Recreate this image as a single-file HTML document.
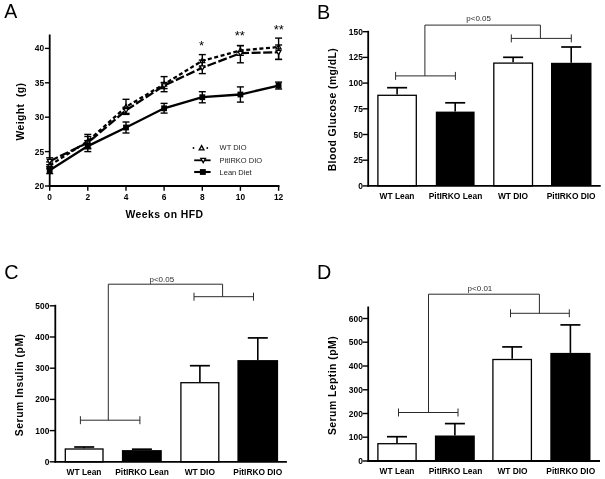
<!DOCTYPE html>
<html><head><meta charset="utf-8"><title>Figure</title>
<style>html,body{margin:0;padding:0;background:#fff;}body{width:605px;height:479px;overflow:hidden;}svg{display:block;}text{font-family:"Liberation Sans",sans-serif;fill:#000;}.b{font-weight:bold;}</style>
</head><body>
<svg width="605" height="479" viewBox="0 0 605 479">
<defs><filter id="bl" x="0" y="0" width="605" height="479" filterUnits="userSpaceOnUse"><feGaussianBlur stdDeviation="0.4"/></filter></defs>
<rect x="0" y="0" width="605" height="479" fill="#fff"/>
<g filter="url(#bl)">
<rect x="0" y="0" width="605" height="479" fill="#fff"/>
<text x="4.2" y="18.2" font-size="19.5" text-anchor="start" >A</text>
<text x="317.0" y="18.7" font-size="19.8" text-anchor="start" >B</text>
<text x="4.3" y="279.2" font-size="19.8" text-anchor="start" >C</text>
<text x="317.0" y="279.3" font-size="19.8" text-anchor="start" >D</text>
<line x1="49.7" y1="34.5" x2="49.7" y2="186.9" stroke="#000" stroke-width="1.8" />
<line x1="48.8" y1="186.0" x2="279.5" y2="186.0" stroke="#000" stroke-width="1.8" />
<line x1="44.9" y1="186.0" x2="49.7" y2="186.0" stroke="#000" stroke-width="1.4" />
<text x="44.1" y="189.0" font-size="8.4" text-anchor="end" class="b" >20</text>
<line x1="44.9" y1="151.6" x2="49.7" y2="151.6" stroke="#000" stroke-width="1.4" />
<text x="44.1" y="154.6" font-size="8.4" text-anchor="end" class="b" >25</text>
<line x1="44.9" y1="117.2" x2="49.7" y2="117.2" stroke="#000" stroke-width="1.4" />
<text x="44.1" y="120.2" font-size="8.4" text-anchor="end" class="b" >30</text>
<line x1="44.9" y1="82.8" x2="49.7" y2="82.8" stroke="#000" stroke-width="1.4" />
<text x="44.1" y="85.8" font-size="8.4" text-anchor="end" class="b" >35</text>
<line x1="44.9" y1="48.4" x2="49.7" y2="48.4" stroke="#000" stroke-width="1.4" />
<text x="44.1" y="51.4" font-size="8.4" text-anchor="end" class="b" >40</text>
<line x1="49.7" y1="186.0" x2="49.7" y2="190.8" stroke="#000" stroke-width="1.4" />
<text x="49.7" y="199.6" font-size="8.4" text-anchor="middle" class="b" >0</text>
<line x1="87.8" y1="186.0" x2="87.8" y2="190.8" stroke="#000" stroke-width="1.4" />
<text x="87.8" y="199.6" font-size="8.4" text-anchor="middle" class="b" >2</text>
<line x1="126.0" y1="186.0" x2="126.0" y2="190.8" stroke="#000" stroke-width="1.4" />
<text x="126.0" y="199.6" font-size="8.4" text-anchor="middle" class="b" >4</text>
<line x1="164.1" y1="186.0" x2="164.1" y2="190.8" stroke="#000" stroke-width="1.4" />
<text x="164.1" y="199.6" font-size="8.4" text-anchor="middle" class="b" >6</text>
<line x1="202.3" y1="186.0" x2="202.3" y2="190.8" stroke="#000" stroke-width="1.4" />
<text x="202.3" y="199.6" font-size="8.4" text-anchor="middle" class="b" >8</text>
<line x1="240.4" y1="186.0" x2="240.4" y2="190.8" stroke="#000" stroke-width="1.4" />
<text x="240.4" y="199.6" font-size="8.4" text-anchor="middle" class="b" >10</text>
<line x1="278.6" y1="186.0" x2="278.6" y2="190.8" stroke="#000" stroke-width="1.4" />
<text x="278.6" y="199.6" font-size="8.4" text-anchor="middle" class="b" >12</text>
<text x="164.5" y="218.0" font-size="10.4" text-anchor="middle" class="b" letter-spacing="0.45">Weeks on HFD</text>
<text transform="translate(23.5,111.6) rotate(-90)" font-size="10.4" text-anchor="middle" class="b" letter-spacing="0.4" xml:space="preserve">Weight  (g)</text>
<polyline points="49.7,165.4 87.8,141.3 126.0,106.9 164.1,84.2 202.3,60.8 240.4,50.5 278.6,47.0" fill="none" stroke="#000" stroke-width="2.3" stroke-dasharray="4 2.6"/>
<line x1="49.7" y1="161.9" x2="49.7" y2="168.8" stroke="#000" stroke-width="1.4" />
<line x1="46.2" y1="161.9" x2="53.2" y2="161.9" stroke="#000" stroke-width="1.4" />
<line x1="46.2" y1="168.8" x2="53.2" y2="168.8" stroke="#000" stroke-width="1.4" />
<line x1="87.8" y1="134.4" x2="87.8" y2="148.2" stroke="#000" stroke-width="1.4" />
<line x1="84.3" y1="134.4" x2="91.3" y2="134.4" stroke="#000" stroke-width="1.4" />
<line x1="84.3" y1="148.2" x2="91.3" y2="148.2" stroke="#000" stroke-width="1.4" />
<line x1="126.0" y1="99.3" x2="126.0" y2="114.4" stroke="#000" stroke-width="1.4" />
<line x1="122.5" y1="99.3" x2="129.5" y2="99.3" stroke="#000" stroke-width="1.4" />
<line x1="122.5" y1="114.4" x2="129.5" y2="114.4" stroke="#000" stroke-width="1.4" />
<line x1="164.1" y1="76.6" x2="164.1" y2="91.7" stroke="#000" stroke-width="1.4" />
<line x1="160.6" y1="76.6" x2="167.6" y2="76.6" stroke="#000" stroke-width="1.4" />
<line x1="160.6" y1="91.7" x2="167.6" y2="91.7" stroke="#000" stroke-width="1.4" />
<line x1="202.3" y1="54.6" x2="202.3" y2="67.0" stroke="#000" stroke-width="1.4" />
<line x1="198.8" y1="54.6" x2="205.8" y2="54.6" stroke="#000" stroke-width="1.4" />
<line x1="198.8" y1="67.0" x2="205.8" y2="67.0" stroke="#000" stroke-width="1.4" />
<line x1="240.4" y1="45.6" x2="240.4" y2="55.3" stroke="#000" stroke-width="1.4" />
<line x1="236.9" y1="45.6" x2="243.9" y2="45.6" stroke="#000" stroke-width="1.4" />
<line x1="236.9" y1="55.3" x2="243.9" y2="55.3" stroke="#000" stroke-width="1.4" />
<line x1="278.6" y1="38.1" x2="278.6" y2="59.4" stroke="#000" stroke-width="1.4" />
<line x1="275.1" y1="38.1" x2="282.1" y2="38.1" stroke="#000" stroke-width="1.4" />
<line x1="275.1" y1="59.4" x2="282.1" y2="59.4" stroke="#000" stroke-width="1.4" />
<polygon points="49.7,162.9 52.1,167.2 47.3,167.2" fill="#fff" stroke="#000" stroke-width="1.3"/>
<polygon points="87.8,138.8 90.2,143.1 85.4,143.1" fill="#fff" stroke="#000" stroke-width="1.3"/>
<polygon points="126.0,104.4 128.4,108.7 123.6,108.7" fill="#fff" stroke="#000" stroke-width="1.3"/>
<polygon points="164.1,81.7 166.5,86.0 161.7,86.0" fill="#fff" stroke="#000" stroke-width="1.3"/>
<polygon points="202.3,58.3 204.7,62.6 199.9,62.6" fill="#fff" stroke="#000" stroke-width="1.3"/>
<polygon points="240.4,48.0 242.8,52.3 238.0,52.3" fill="#fff" stroke="#000" stroke-width="1.3"/>
<polygon points="278.6,44.5 281.0,48.8 276.2,48.8" fill="#fff" stroke="#000" stroke-width="1.3"/>
<polyline points="49.7,161.2 87.8,142.7 126.0,110.3 164.1,85.6 202.3,67.7 240.4,53.2 278.6,52.2" fill="none" stroke="#000" stroke-width="2.3" stroke-dasharray="9 2.6"/>
<line x1="49.7" y1="157.8" x2="49.7" y2="164.7" stroke="#000" stroke-width="1.4" />
<line x1="46.2" y1="157.8" x2="53.2" y2="157.8" stroke="#000" stroke-width="1.4" />
<line x1="46.2" y1="164.7" x2="53.2" y2="164.7" stroke="#000" stroke-width="1.4" />
<line x1="87.8" y1="136.5" x2="87.8" y2="148.8" stroke="#000" stroke-width="1.4" />
<line x1="84.3" y1="136.5" x2="91.3" y2="136.5" stroke="#000" stroke-width="1.4" />
<line x1="84.3" y1="148.8" x2="91.3" y2="148.8" stroke="#000" stroke-width="1.4" />
<line x1="126.0" y1="107.2" x2="126.0" y2="113.4" stroke="#000" stroke-width="1.4" />
<line x1="122.5" y1="107.2" x2="129.5" y2="107.2" stroke="#000" stroke-width="1.4" />
<line x1="122.5" y1="113.4" x2="129.5" y2="113.4" stroke="#000" stroke-width="1.4" />
<line x1="164.1" y1="82.5" x2="164.1" y2="88.6" stroke="#000" stroke-width="1.4" />
<line x1="160.6" y1="82.5" x2="167.6" y2="82.5" stroke="#000" stroke-width="1.4" />
<line x1="160.6" y1="88.6" x2="167.6" y2="88.6" stroke="#000" stroke-width="1.4" />
<line x1="202.3" y1="60.1" x2="202.3" y2="73.6" stroke="#000" stroke-width="1.4" />
<line x1="198.8" y1="60.1" x2="205.8" y2="60.1" stroke="#000" stroke-width="1.4" />
<line x1="198.8" y1="73.6" x2="205.8" y2="73.6" stroke="#000" stroke-width="1.4" />
<line x1="240.4" y1="45.6" x2="240.4" y2="62.8" stroke="#000" stroke-width="1.4" />
<line x1="236.9" y1="45.6" x2="243.9" y2="45.6" stroke="#000" stroke-width="1.4" />
<line x1="236.9" y1="62.8" x2="243.9" y2="62.8" stroke="#000" stroke-width="1.4" />
<line x1="278.6" y1="45.0" x2="278.6" y2="59.4" stroke="#000" stroke-width="1.4" />
<line x1="275.1" y1="45.0" x2="282.1" y2="45.0" stroke="#000" stroke-width="1.4" />
<line x1="275.1" y1="59.4" x2="282.1" y2="59.4" stroke="#000" stroke-width="1.4" />
<polygon points="49.7,163.7 52.1,159.4 47.3,159.4" fill="#fff" stroke="#000" stroke-width="1.3"/>
<polygon points="87.8,145.2 90.2,140.9 85.4,140.9" fill="#fff" stroke="#000" stroke-width="1.3"/>
<polygon points="126.0,112.8 128.4,108.5 123.6,108.5" fill="#fff" stroke="#000" stroke-width="1.3"/>
<polygon points="164.1,88.1 166.5,83.8 161.7,83.8" fill="#fff" stroke="#000" stroke-width="1.3"/>
<polygon points="202.3,70.2 204.7,65.9 199.9,65.9" fill="#fff" stroke="#000" stroke-width="1.3"/>
<polygon points="240.4,55.7 242.8,51.4 238.0,51.4" fill="#fff" stroke="#000" stroke-width="1.3"/>
<polygon points="278.6,54.7 281.0,50.4 276.2,50.4" fill="#fff" stroke="#000" stroke-width="1.3"/>
<polyline points="49.7,170.2 87.8,146.1 126.0,127.5 164.1,108.3 202.3,97.2 240.4,94.5 278.6,85.6" fill="none" stroke="#000" stroke-width="2.3"/>
<line x1="49.7" y1="166.7" x2="49.7" y2="173.6" stroke="#000" stroke-width="1.4" />
<line x1="46.2" y1="166.7" x2="53.2" y2="166.7" stroke="#000" stroke-width="1.4" />
<line x1="46.2" y1="173.6" x2="53.2" y2="173.6" stroke="#000" stroke-width="1.4" />
<line x1="87.8" y1="140.6" x2="87.8" y2="151.6" stroke="#000" stroke-width="1.4" />
<line x1="84.3" y1="140.6" x2="91.3" y2="140.6" stroke="#000" stroke-width="1.4" />
<line x1="84.3" y1="151.6" x2="91.3" y2="151.6" stroke="#000" stroke-width="1.4" />
<line x1="126.0" y1="122.0" x2="126.0" y2="133.0" stroke="#000" stroke-width="1.4" />
<line x1="122.5" y1="122.0" x2="129.5" y2="122.0" stroke="#000" stroke-width="1.4" />
<line x1="122.5" y1="133.0" x2="129.5" y2="133.0" stroke="#000" stroke-width="1.4" />
<line x1="164.1" y1="103.4" x2="164.1" y2="113.1" stroke="#000" stroke-width="1.4" />
<line x1="160.6" y1="103.4" x2="167.6" y2="103.4" stroke="#000" stroke-width="1.4" />
<line x1="160.6" y1="113.1" x2="167.6" y2="113.1" stroke="#000" stroke-width="1.4" />
<line x1="202.3" y1="91.7" x2="202.3" y2="102.8" stroke="#000" stroke-width="1.4" />
<line x1="198.8" y1="91.7" x2="205.8" y2="91.7" stroke="#000" stroke-width="1.4" />
<line x1="198.8" y1="102.8" x2="205.8" y2="102.8" stroke="#000" stroke-width="1.4" />
<line x1="240.4" y1="86.9" x2="240.4" y2="102.1" stroke="#000" stroke-width="1.4" />
<line x1="236.9" y1="86.9" x2="243.9" y2="86.9" stroke="#000" stroke-width="1.4" />
<line x1="236.9" y1="102.1" x2="243.9" y2="102.1" stroke="#000" stroke-width="1.4" />
<line x1="278.6" y1="82.1" x2="278.6" y2="89.0" stroke="#000" stroke-width="1.4" />
<line x1="275.1" y1="82.1" x2="282.1" y2="82.1" stroke="#000" stroke-width="1.4" />
<line x1="275.1" y1="89.0" x2="282.1" y2="89.0" stroke="#000" stroke-width="1.4" />
<rect x="46.8" y="167.3" width="5.8" height="5.8" fill="#000"/>
<rect x="84.9" y="143.2" width="5.8" height="5.8" fill="#000"/>
<rect x="123.1" y="124.6" width="5.8" height="5.8" fill="#000"/>
<rect x="161.2" y="105.4" width="5.8" height="5.8" fill="#000"/>
<rect x="199.4" y="94.3" width="5.8" height="5.8" fill="#000"/>
<rect x="237.5" y="91.6" width="5.8" height="5.8" fill="#000"/>
<rect x="275.7" y="82.7" width="5.8" height="5.8" fill="#000"/>
<text x="201.5" y="49.5" font-size="13" text-anchor="middle" >*</text>
<text x="239.8" y="39.8" font-size="13" text-anchor="middle" >**</text>
<text x="278.8" y="33.5" font-size="13" text-anchor="middle" >**</text>
<circle cx="193.5" cy="148.0" r="0.9" fill="#000"/><circle cx="207.3" cy="148.0" r="0.9" fill="#000"/>
<polygon points="201.6,145.6 204.0,149.9 199.2,149.9" fill="#fff" stroke="#000" stroke-width="1.3"/>
<line x1="194.2" y1="160.3" x2="210.6" y2="160.3" stroke="#000" stroke-width="1.8" />
<polygon points="203.2,162.6 205.6,158.3 200.8,158.3" fill="#fff" stroke="#000" stroke-width="1.3"/>
<line x1="194.2" y1="172.0" x2="210.6" y2="172.0" stroke="#000" stroke-width="2.1" />
<rect x="199.9" y="169.1" width="5.9" height="5.8" fill="#000"/>
<text x="219.6" y="150.3" font-size="7.5" text-anchor="start" style="fill:#222">WT DIO</text>
<text x="219.6" y="163.2" font-size="7.5" text-anchor="start" style="fill:#222">PitIRKO DIO</text>
<text x="219.6" y="175.0" font-size="7.5" text-anchor="start" style="fill:#222">Lean Diet</text>
<line x1="397.1" y1="87.7" x2="397.1" y2="94.5" stroke="#000" stroke-width="1.6" />
<line x1="387.1" y1="87.7" x2="407.1" y2="87.7" stroke="#000" stroke-width="1.7" />
<rect x="377.9" y="95.3" width="38.4" height="90.6" fill="#fff" stroke="#000" stroke-width="1.3"/>
<line x1="455.2" y1="102.8" x2="455.2" y2="111.6" stroke="#000" stroke-width="1.6" />
<line x1="445.2" y1="102.8" x2="465.2" y2="102.8" stroke="#000" stroke-width="1.7" />
<rect x="435.8" y="111.6" width="38.8" height="74.3" fill="#000"/>
<line x1="513.1" y1="57.3" x2="513.1" y2="62.3" stroke="#000" stroke-width="1.6" />
<line x1="503.1" y1="57.3" x2="523.1" y2="57.3" stroke="#000" stroke-width="1.7" />
<rect x="493.8" y="63.1" width="38.7" height="122.8" fill="#fff" stroke="#000" stroke-width="1.3"/>
<line x1="571.2" y1="47.0" x2="571.2" y2="62.8" stroke="#000" stroke-width="1.6" />
<line x1="561.2" y1="47.0" x2="581.2" y2="47.0" stroke="#000" stroke-width="1.7" />
<rect x="551.0" y="62.8" width="40.5" height="123.1" fill="#000"/>
<line x1="368.2" y1="30.8" x2="368.2" y2="186.8" stroke="#000" stroke-width="1.8" />
<line x1="367.3" y1="185.9" x2="600.7" y2="185.9" stroke="#000" stroke-width="1.8" />
<line x1="362.6" y1="185.9" x2="368.2" y2="185.9" stroke="#000" stroke-width="1.4" />
<text x="362.8" y="188.9" font-size="8.4" text-anchor="end" class="b" >0</text>
<line x1="362.6" y1="160.2" x2="368.2" y2="160.2" stroke="#000" stroke-width="1.4" />
<text x="362.8" y="163.2" font-size="8.4" text-anchor="end" class="b" >25</text>
<line x1="362.6" y1="134.5" x2="368.2" y2="134.5" stroke="#000" stroke-width="1.4" />
<text x="362.8" y="137.5" font-size="8.4" text-anchor="end" class="b" >50</text>
<line x1="362.6" y1="108.8" x2="368.2" y2="108.8" stroke="#000" stroke-width="1.4" />
<text x="362.8" y="111.8" font-size="8.4" text-anchor="end" class="b" >75</text>
<line x1="362.6" y1="83.1" x2="368.2" y2="83.1" stroke="#000" stroke-width="1.4" />
<text x="362.8" y="86.1" font-size="8.4" text-anchor="end" class="b" >100</text>
<line x1="362.6" y1="57.4" x2="368.2" y2="57.4" stroke="#000" stroke-width="1.4" />
<text x="362.8" y="60.4" font-size="8.4" text-anchor="end" class="b" >125</text>
<line x1="362.6" y1="31.7" x2="368.2" y2="31.7" stroke="#000" stroke-width="1.4" />
<text x="362.8" y="34.7" font-size="8.4" text-anchor="end" class="b" >150</text>
<text transform="translate(336.4,109.6) rotate(-90)" font-size="10.4" text-anchor="middle" class="b" letter-spacing="0.44">Blood Glucose (mg/dL)</text>
<text x="397.0" y="199.2" font-size="8.4" text-anchor="middle" class="b" >WT Lean</text>
<text x="455.5" y="199.2" font-size="8.4" text-anchor="middle" class="b" >PitIRKO Lean</text>
<text x="513.0" y="199.2" font-size="8.4" text-anchor="middle" class="b" >WT DIO</text>
<text x="571.2" y="199.2" font-size="8.4" text-anchor="middle" class="b" >PitIRKO DIO</text>
<line x1="395.6" y1="75.9" x2="455.4" y2="75.9" stroke="#2a2a2a" stroke-width="1.0" />
<line x1="395.6" y1="71.9" x2="395.6" y2="79.9" stroke="#2a2a2a" stroke-width="1.0" />
<line x1="455.4" y1="71.9" x2="455.4" y2="79.9" stroke="#2a2a2a" stroke-width="1.0" />
<line x1="424.9" y1="75.9" x2="424.9" y2="25.1" stroke="#2a2a2a" stroke-width="1.0" />
<line x1="424.9" y1="25.1" x2="540.4" y2="25.1" stroke="#2a2a2a" stroke-width="1.0" />
<line x1="540.4" y1="25.1" x2="540.4" y2="38.4" stroke="#2a2a2a" stroke-width="1.0" />
<line x1="511.3" y1="38.4" x2="571.3" y2="38.4" stroke="#2a2a2a" stroke-width="1.0" />
<line x1="511.3" y1="34.4" x2="511.3" y2="42.4" stroke="#2a2a2a" stroke-width="1.0" />
<line x1="571.3" y1="34.4" x2="571.3" y2="42.4" stroke="#2a2a2a" stroke-width="1.0" />
<text x="466.3" y="21.4" font-size="8" text-anchor="start" style="fill:#2a2a2a">p&lt;0.05</text>
<line x1="84.2" y1="447.0" x2="84.2" y2="448.2" stroke="#000" stroke-width="1.6" />
<line x1="74.2" y1="447.0" x2="94.2" y2="447.0" stroke="#000" stroke-width="1.7" />
<rect x="65.3" y="449.0" width="37.7" height="12.8" fill="#fff" stroke="#000" stroke-width="1.3"/>
<line x1="141.9" y1="449.2" x2="141.9" y2="450.1" stroke="#000" stroke-width="1.6" />
<line x1="131.9" y1="449.2" x2="151.9" y2="449.2" stroke="#000" stroke-width="1.7" />
<rect x="121.9" y="450.1" width="39.9" height="11.7" fill="#000"/>
<line x1="199.9" y1="365.7" x2="199.9" y2="381.9" stroke="#000" stroke-width="1.6" />
<line x1="189.9" y1="365.7" x2="209.9" y2="365.7" stroke="#000" stroke-width="1.7" />
<rect x="180.9" y="382.7" width="37.9" height="79.1" fill="#fff" stroke="#000" stroke-width="1.3"/>
<line x1="257.8" y1="337.9" x2="257.8" y2="360.1" stroke="#000" stroke-width="1.6" />
<line x1="247.8" y1="337.9" x2="267.8" y2="337.9" stroke="#000" stroke-width="1.7" />
<rect x="237.4" y="360.1" width="40.7" height="101.7" fill="#000"/>
<line x1="55.3" y1="304.8" x2="55.3" y2="462.7" stroke="#000" stroke-width="1.8" />
<line x1="54.4" y1="461.8" x2="286.9" y2="461.8" stroke="#000" stroke-width="1.8" />
<line x1="49.7" y1="461.8" x2="55.3" y2="461.8" stroke="#000" stroke-width="1.4" />
<text x="49.3" y="464.8" font-size="8.4" text-anchor="end" class="b" >0</text>
<line x1="49.7" y1="430.6" x2="55.3" y2="430.6" stroke="#000" stroke-width="1.4" />
<text x="49.3" y="433.6" font-size="8.4" text-anchor="end" class="b" >100</text>
<line x1="49.7" y1="399.4" x2="55.3" y2="399.4" stroke="#000" stroke-width="1.4" />
<text x="49.3" y="402.4" font-size="8.4" text-anchor="end" class="b" >200</text>
<line x1="49.7" y1="368.2" x2="55.3" y2="368.2" stroke="#000" stroke-width="1.4" />
<text x="49.3" y="371.2" font-size="8.4" text-anchor="end" class="b" >300</text>
<line x1="49.7" y1="337.0" x2="55.3" y2="337.0" stroke="#000" stroke-width="1.4" />
<text x="49.3" y="340.0" font-size="8.4" text-anchor="end" class="b" >400</text>
<line x1="49.7" y1="305.8" x2="55.3" y2="305.8" stroke="#000" stroke-width="1.4" />
<text x="49.3" y="308.8" font-size="8.4" text-anchor="end" class="b" >500</text>
<text transform="translate(23.3,384.8) rotate(-90)" font-size="10.4" text-anchor="middle" class="b" letter-spacing="0.51">Serum Insulin (pM)</text>
<text x="84.0" y="474.6" font-size="8.4" text-anchor="middle" class="b" >WT Lean</text>
<text x="142.0" y="474.6" font-size="8.4" text-anchor="middle" class="b" >PitIRKO Lean</text>
<text x="199.8" y="474.6" font-size="8.4" text-anchor="middle" class="b" >WT DIO</text>
<text x="257.8" y="474.6" font-size="8.4" text-anchor="middle" class="b" >PitIRKO DIO</text>
<line x1="80.4" y1="420.2" x2="139.9" y2="420.2" stroke="#2a2a2a" stroke-width="1.0" />
<line x1="80.4" y1="416.2" x2="80.4" y2="424.2" stroke="#2a2a2a" stroke-width="1.0" />
<line x1="139.9" y1="416.2" x2="139.9" y2="424.2" stroke="#2a2a2a" stroke-width="1.0" />
<line x1="108.3" y1="420.2" x2="108.3" y2="284.2" stroke="#2a2a2a" stroke-width="1.0" />
<line x1="108.3" y1="284.2" x2="222.6" y2="284.2" stroke="#2a2a2a" stroke-width="1.0" />
<line x1="222.6" y1="284.2" x2="222.6" y2="296.7" stroke="#2a2a2a" stroke-width="1.0" />
<line x1="194.0" y1="296.7" x2="253.5" y2="296.7" stroke="#2a2a2a" stroke-width="1.0" />
<line x1="194.0" y1="292.7" x2="194.0" y2="300.7" stroke="#2a2a2a" stroke-width="1.0" />
<line x1="253.5" y1="292.7" x2="253.5" y2="300.7" stroke="#2a2a2a" stroke-width="1.0" />
<text x="149.5" y="282.0" font-size="8" text-anchor="start" style="fill:#2a2a2a">p&lt;0.05</text>
<line x1="397.0" y1="436.7" x2="397.0" y2="442.9" stroke="#000" stroke-width="1.6" />
<line x1="387.0" y1="436.7" x2="407.0" y2="436.7" stroke="#000" stroke-width="1.7" />
<rect x="377.9" y="443.7" width="38.2" height="17.3" fill="#fff" stroke="#000" stroke-width="1.3"/>
<line x1="454.9" y1="423.6" x2="454.9" y2="435.5" stroke="#000" stroke-width="1.6" />
<line x1="444.9" y1="423.6" x2="464.9" y2="423.6" stroke="#000" stroke-width="1.7" />
<rect x="434.9" y="435.5" width="39.9" height="25.5" fill="#000"/>
<line x1="512.2" y1="346.9" x2="512.2" y2="358.8" stroke="#000" stroke-width="1.6" />
<line x1="502.2" y1="346.9" x2="522.2" y2="346.9" stroke="#000" stroke-width="1.7" />
<rect x="492.9" y="359.5" width="38.5" height="101.5" fill="#fff" stroke="#000" stroke-width="1.3"/>
<line x1="570.4" y1="324.9" x2="570.4" y2="352.9" stroke="#000" stroke-width="1.6" />
<line x1="560.4" y1="324.9" x2="580.4" y2="324.9" stroke="#000" stroke-width="1.7" />
<rect x="550.3" y="352.9" width="40.2" height="108.1" fill="#000"/>
<line x1="368.2" y1="306.5" x2="368.2" y2="461.9" stroke="#000" stroke-width="1.8" />
<line x1="367.3" y1="461.0" x2="600.0" y2="461.0" stroke="#000" stroke-width="1.8" />
<line x1="362.6" y1="461.0" x2="368.2" y2="461.0" stroke="#000" stroke-width="1.4" />
<text x="362.8" y="464.0" font-size="8.4" text-anchor="end" class="b" >0</text>
<line x1="362.6" y1="437.2" x2="368.2" y2="437.2" stroke="#000" stroke-width="1.4" />
<text x="362.8" y="440.2" font-size="8.4" text-anchor="end" class="b" >100</text>
<line x1="362.6" y1="413.5" x2="368.2" y2="413.5" stroke="#000" stroke-width="1.4" />
<text x="362.8" y="416.5" font-size="8.4" text-anchor="end" class="b" >200</text>
<line x1="362.6" y1="389.8" x2="368.2" y2="389.8" stroke="#000" stroke-width="1.4" />
<text x="362.8" y="392.8" font-size="8.4" text-anchor="end" class="b" >300</text>
<line x1="362.6" y1="366.0" x2="368.2" y2="366.0" stroke="#000" stroke-width="1.4" />
<text x="362.8" y="369.0" font-size="8.4" text-anchor="end" class="b" >400</text>
<line x1="362.6" y1="342.2" x2="368.2" y2="342.2" stroke="#000" stroke-width="1.4" />
<text x="362.8" y="345.2" font-size="8.4" text-anchor="end" class="b" >500</text>
<line x1="362.6" y1="318.5" x2="368.2" y2="318.5" stroke="#000" stroke-width="1.4" />
<text x="362.8" y="321.5" font-size="8.4" text-anchor="end" class="b" >600</text>
<text transform="translate(335.9,385.5) rotate(-90)" font-size="10.4" text-anchor="middle" class="b" letter-spacing="0.47">Serum Leptin (pM)</text>
<text x="397.0" y="473.7" font-size="8.4" text-anchor="middle" class="b" >WT Lean</text>
<text x="455.5" y="473.7" font-size="8.4" text-anchor="middle" class="b" >PitIRKO Lean</text>
<text x="512.5" y="473.7" font-size="8.4" text-anchor="middle" class="b" >WT DIO</text>
<text x="570.8" y="473.7" font-size="8.4" text-anchor="middle" class="b" >PitIRKO DIO</text>
<line x1="398.5" y1="412.5" x2="458.0" y2="412.5" stroke="#2a2a2a" stroke-width="1.0" />
<line x1="398.5" y1="408.5" x2="398.5" y2="416.5" stroke="#2a2a2a" stroke-width="1.0" />
<line x1="458.0" y1="408.5" x2="458.0" y2="416.5" stroke="#2a2a2a" stroke-width="1.0" />
<line x1="428.5" y1="412.5" x2="428.5" y2="294.2" stroke="#2a2a2a" stroke-width="1.0" />
<line x1="428.5" y1="294.2" x2="539.4" y2="294.2" stroke="#2a2a2a" stroke-width="1.0" />
<line x1="539.4" y1="294.2" x2="539.4" y2="313.3" stroke="#2a2a2a" stroke-width="1.0" />
<line x1="510.5" y1="313.3" x2="569.3" y2="313.3" stroke="#2a2a2a" stroke-width="1.0" />
<line x1="510.5" y1="309.3" x2="510.5" y2="317.3" stroke="#2a2a2a" stroke-width="1.0" />
<line x1="569.3" y1="309.3" x2="569.3" y2="317.3" stroke="#2a2a2a" stroke-width="1.0" />
<text x="467.6" y="291.0" font-size="8" text-anchor="start" style="fill:#2a2a2a">p&lt;0.01</text>
</g></svg></body></html>
